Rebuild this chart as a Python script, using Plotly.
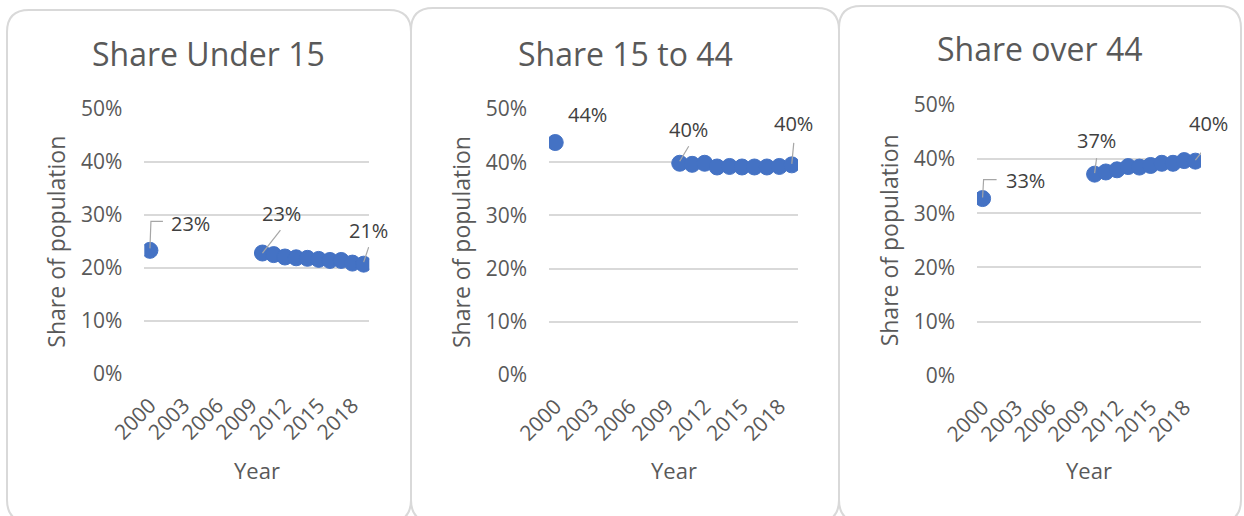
import plotly.graph_objects as go

# Population shares by age group
years = [2000, 2010, 2011, 2012, 2013, 2014, 2015, 2016, 2017, 2018, 2019]
share_under_15 = [0.233, 0.228, 0.225, 0.2205, 0.219, 0.218, 0.216, 0.214, 0.214, 0.209, 0.207]
share_15_to_44 = [0.437, 0.398, 0.396, 0.398, 0.391, 0.392, 0.391, 0.391, 0.391, 0.392, 0.395]
share_over_44 = [0.327, 0.372, 0.376, 0.380, 0.386, 0.385, 0.388, 0.392, 0.392, 0.397, 0.396]
panel_titles = ["Share Under 15", "Share 15 to 44", "Share over 44"]
tick_years = [2000, 2003, 2006, 2009, 2012, 2015, 2018]
y_ticks = [0, 0.1, 0.2, 0.3, 0.4, 0.5]
labelled = [0, 1, 10]  # indices of points carrying a value label

W, H = 1244, 516
BLUE = "#4472C4"
GRID = "#d9d9d9"
TXT = "#595959"
LBL = "#404040"
FONT = "Open Sans"


def px(x):
    return x / W


def py(y):
    return 1 - y / H


# Panel layout in pixels: card box, plot area (left, right, top@50%, bottom@0%)
cards = [(7, 411, 10, 522), (411, 839, 8, 522), (839, 1241, 6, 522)]
plots = [(144.3, 369.3, 108.7, 374), (549, 798, 109, 375), (977, 1201, 104.7, 376)]
title_y = [54, 54, 49]

# label text offsets (px, y up) and leader paths relative to the point
label_style = [
    [((41, 27), "M0,2 L1,29 L13,29"), ((19, 40), "M0,0 L18,23"), ((5, 34), "M0,2 L5,17")],
    [((32, 28), None), ((9, 34), "M0,2 L9,17"), ((1.5, 41), "M0,1 L2,22")],
    [((43, 18), "M0,1 L1,19 L14,19"), ((2, 34), "M0,1 L2,16"), ((13, 38), "M0,1 L14,19")],
]

series = [share_under_15, share_15_to_44, share_over_44]

fig = go.Figure()
shapes = []
annotations = []


def card_path(x0, x1, y0, y1, r=22):
    pts = [
        ("M", x0, y0 + r), ("Q", x0, y0, x0 + r, y0), ("L", x1 - r, y0),
        ("Q", x1, y0, x1, y0 + r), ("L", x1, y1 - r), ("Q", x1, y1, x1 - r, y1),
        ("L", x0 + r, y1), ("Q", x0, y1, x0, y1 - r), ("Z",),
    ]
    out = []
    for p in pts:
        cmd = p[0]
        coords = p[1:]
        seg = cmd
        for i in range(0, len(coords), 2):
            seg += f"{px(coords[i]):.5f},{py(coords[i + 1]):.5f} "
        out.append(seg.strip())
    return " ".join(out)


for k in range(3):
    xa = "x" if k == 0 else f"x{k + 1}"
    ya = "y" if k == 0 else f"y{k + 1}"
    vals = series[k]
    fig.add_trace(go.Scatter(
        x=years, y=vals, mode="markers", xaxis=xa, yaxis=ya,
        marker=dict(color=BLUE, size=16, line=dict(color=BLUE, width=1)),
        showlegend=False, hoverinfo="x+y",
    ))

    l, r, t, b = plots[k]
    axis_x = dict(
        domain=[px(l), px(r)], range=[1999.5, 2019.5], anchor=ya,
        tickvals=tick_years, ticktext=[str(v) for v in tick_years],
        tickangle=-45, showgrid=False, zeroline=False, showline=False,
        tickfont=dict(family=FONT, size=21, color=TXT), ticklabelstandoff=14,
        fixedrange=True, automargin=False,
    )
    axis_y = dict(
        domain=[py(b), py(t)], range=[0, 0.5], anchor=xa,
        tickvals=y_ticks, tickformat=".0%", showgrid=True, gridcolor=GRID,
        gridwidth=1.8, zeroline=False, showline=False,
        tickfont=dict(family=FONT, size=21, color=TXT), ticklabelstandoff=21,
        fixedrange=True, automargin=False,
    )
    fig.update_layout(**{("xaxis" if k == 0 else f"xaxis{k + 1}"): axis_x,
                         ("yaxis" if k == 0 else f"yaxis{k + 1}"): axis_y})

    # card border
    cx0, cx1, cy0, cy1 = cards[k]
    shapes.append(dict(type="path", xref="paper", yref="paper",
                       path=card_path(cx0, cx1, cy0, cy1),
                       line=dict(color=GRID, width=2), layer="below"))

    # panel title
    annotations.append(dict(text=panel_titles[k], xref="paper", yref="paper",
                            x=px((cx0 + cx1) / 2), y=py(title_y[k]),
                            xanchor="center", yanchor="middle", showarrow=False,
                            font=dict(family=FONT, size=32, color=TXT)))
    # axis titles
    annotations.append(dict(text="Share of population", textangle=-90,
                            xref=f"{xa} domain", yref=f"{ya} domain", x=0, y=0.5,
                            xshift=-88, xanchor="center", yanchor="middle",
                            showarrow=False, font=dict(family=FONT, size=23, color=TXT)))
    annotations.append(dict(text="Year", xref=f"{xa} domain", yref=f"{ya} domain",
                            x=0.5, y=0, yshift=-(470 - b), xanchor="center",
                            yanchor="middle", showarrow=False,
                            font=dict(family=FONT, size=22, color=TXT)))

    # value labels with leader lines
    for j, idx in enumerate(labelled):
        (dx, dy), leader = label_style[k][j]
        annotations.append(dict(text=f"{vals[idx]:.0%}", xref=xa, yref=ya,
                                x=years[idx], y=vals[idx], xshift=dx, yshift=dy,
                                xanchor="center", yanchor="middle", showarrow=False,
                                font=dict(family=FONT, size=20, color=LBL)))
        if leader:
            shapes.append(dict(type="path", xref=xa, yref=ya,
                               xsizemode="pixel", ysizemode="pixel",
                               xanchor=years[idx], yanchor=vals[idx],
                               path=leader, line=dict(color="#a6a6a6", width=1.2),
                               layer="above"))

fig.update_layout(
    width=W, height=H, margin=dict(l=0, r=0, t=0, b=0),
    paper_bgcolor="white", plot_bgcolor="white",
    shapes=shapes, annotations=annotations,
    font=dict(family=FONT, color=TXT),
)

fig.write_html("out.html")
